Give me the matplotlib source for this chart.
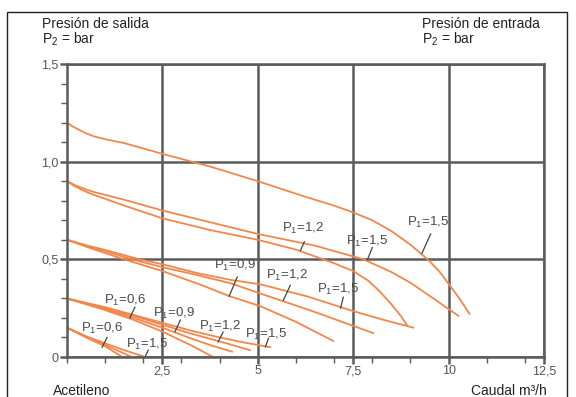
import matplotlib
matplotlib.use("Agg")
import matplotlib.pyplot as plt
from matplotlib.patches import Rectangle
from matplotlib.ticker import MultipleLocator, FixedLocator, FuncFormatter

plt.rcParams['font.family'] = ['Liberation Sans', 'DejaVu Sans']
plt.rcParams['mathtext.fontset'] = 'custom'
plt.rcParams['mathtext.rm'] = 'Liberation Sans'
plt.rcParams['mathtext.default'] = 'regular'

# ---- data ----
# curve starting at 1.2
a_x = [0, 0.15, 0.3, 0.5, 0.7, 1.0, 1.5, 2.5, 3.75, 5, 6.25, 7.0, 7.5, 8.0, 8.5, 9.0, 9.45, 9.75, 10.0, 10.3, 10.55]
a_y = [1.2, 1.18, 1.165, 1.145, 1.13, 1.115, 1.095, 1.04, 0.975, 0.9, 0.82, 0.775, 0.74, 0.70, 0.645, 0.575, 0.5, 0.44, 0.375, 0.295, 0.22]
# curves starting at 0.9
b_x = [0, 0.2, 0.4, 0.7, 1, 1.5, 2.5, 3.75, 5, 6.5, 7.77, 8.5, 9.0, 9.6, 10.26]
b_y = [0.9, 0.88, 0.865, 0.845, 0.83, 0.805, 0.75, 0.69, 0.63, 0.57, 0.5, 0.435, 0.38, 0.30, 0.21]
c_x = [0, 0.2, 0.4, 0.7, 1, 1.5, 2.5, 3.75, 5, 5.6, 6.0, 6.5, 7.0, 7.5, 7.9, 8.2, 8.5, 8.75, 8.92]
c_y = [0.9, 0.875, 0.855, 0.83, 0.81, 0.775, 0.71, 0.65, 0.6, 0.57, 0.55, 0.515, 0.48, 0.44, 0.39, 0.335, 0.27, 0.21, 0.16]
# curves starting at 0.6
d_x = [0, 0.5, 1.0, 1.9, 2.5, 3.4, 4.28, 5.07, 6.3, 7.5, 8.3, 9.08]
d_y = [0.6, 0.572, 0.548, 0.5, 0.475, 0.43, 0.395, 0.372, 0.31, 0.235, 0.19, 0.15]
e_x = [0, 0.5, 1.0, 1.7, 2.5, 3.4, 4.28, 5.07, 6.5, 8.03]
e_y = [0.6, 0.57, 0.542, 0.5, 0.46, 0.42, 0.378, 0.325, 0.23, 0.122]
f_x = [0, 0.5, 1.0, 1.5, 2.5, 3.5, 4.28, 5.07, 6.0, 6.98]
f_y = [0.6, 0.565, 0.532, 0.5, 0.44, 0.37, 0.31, 0.26, 0.18, 0.082]
# curves starting at 0.3
g_x = [0, 0.5, 1, 1.75, 2.5, 3.25, 3.83]
g_y = [0.3, 0.27, 0.24, 0.19, 0.13, 0.06, 0.0]
h_x = [0, 0.5, 1, 1.75, 2.5, 3.25, 3.8, 4.33]
h_y = [0.3, 0.272, 0.245, 0.2, 0.15, 0.095, 0.058, 0.027]
i_x = [0, 0.5, 1, 1.75, 2.5, 3.25, 4.0, 4.8]
i_y = [0.3, 0.275, 0.25, 0.21, 0.165, 0.12, 0.08, 0.035]
j_x = [0, 0.5, 1, 1.75, 2.5, 3.25, 4.0, 4.7, 5.33]
j_y = [0.3, 0.277, 0.255, 0.215, 0.175, 0.135, 0.1, 0.072, 0.05]
# curves starting at 0.15
k_x = [0, 0.5, 1.0, 1.45]
k_y = [0.15, 0.1, 0.055, 0.0]
l_x = [0, 0.5, 1.0, 1.7]
l_y = [0.15, 0.103, 0.062, 0.0]
m_x = [0, 0.5, 1.0, 1.5, 2.05]
m_y = [0.15, 0.106, 0.07, 0.035, 0.0]

curves = [(a_x, a_y), (b_x, b_y), (c_x, c_y), (d_x, d_y), (e_x, e_y), (f_x, f_y),
          (g_x, g_y), (h_x, h_y), (i_x, i_y), (j_x, j_y), (k_x, k_y), (l_x, l_y), (m_x, m_y)]

# label texts, text centre and leader line (start -> end)
label_texts = ['1,5', '1,2', '1,5', '0,9', '1,2', '1,5', '0,6', '0,9', '1,2', '1,5', '0,6', '1,5']
label_pos = [(9.45, 0.69), (6.19, 0.66), (7.87, 0.59), (4.41, 0.47), (5.77, 0.415), (7.11, 0.345),
             (1.52, 0.29), (2.81, 0.224), (4.02, 0.158), (5.22, 0.118), (0.92, 0.148), (2.1, 0.062)]
leader_from = [(9.53, 0.63), (6.22, 0.59), (8.0, 0.56), (4.46, 0.41), (5.85, 0.367), (7.24, 0.306),
               (1.78, 0.255), (2.97, 0.189), (4.09, 0.128), (5.28, 0.097), (1.05, 0.10), (2.13, 0.035)]
leader_to = [(9.3, 0.53), (6.12, 0.546), (7.87, 0.497), (4.25, 0.311), (5.67, 0.29), (7.17, 0.25),
             (1.65, 0.2), (2.83, 0.13), (3.96, 0.077), (5.2, 0.052), (0.92, 0.05), (2.05, 0.003)]

x_major = [2.5, 5, 7.5, 10, 12.5]
y_major = [0, 0.5, 1.0, 1.5]
y_major_labels = ['0', '0,5', '1,0', '1,5']
x_major_labels = ['2,5', '5', '7,5', '10', '12,5']

# ---- figure ----
fig = plt.figure(figsize=(5.76, 3.97), dpi=100)
ax = fig.add_axes([67 / 576, 1 - 357 / 397, (544 - 67) / 576, (357 - 64) / 397])
ax.set_xlim(0, 12.5)
ax.set_ylim(0, 1.5)

grid_c = '#5b5b5b'
ax.grid(True, which='major', color=grid_c, lw=1.8)
ax.set_axisbelow(True)
for s in ax.spines.values():
    s.set_color(grid_c)
    s.set_linewidth(1.8)

ax.set_xticks(x_major, x_major_labels)
ax.set_yticks(y_major, y_major_labels)
ax.xaxis.set_minor_locator(MultipleLocator(1))
ax.yaxis.set_minor_locator(MultipleLocator(0.1))
ax.tick_params(which='major', direction='out', length=5, width=1.8, color=grid_c,
               labelsize=9, labelcolor='#555555', pad=1)
ax.tick_params(which='minor', direction='out', length=4, width=1.0, color=grid_c)

line_c = '#f2874a'
for cx, cy in curves:
    ax.plot(cx, cy, color=line_c, lw=1.3, solid_capstyle='round', solid_joinstyle='round')

for t, (tx, ty), (fx, fy), (ex, ey) in zip(label_texts, label_pos, leader_from, leader_to):
    ax.text(tx, ty, r'P$_1$=' + t, fontsize=9.5, color='#4a4a4a', ha='center', va='center')
    ax.plot([fx, ex], [fy, ey], color='#444444', lw=0.9)

# outer frame
fig.add_artist(Rectangle((7 / 576, -0.05), (567 - 7) / 576, 1 - 12 / 397 + 0.05,
                         transform=fig.transFigure, fill=False, lw=1.0, edgecolor='#222222'))

tc = '#222222'
fig.text(42 / 576, 1 - 28 / 397, 'Presión de salida', fontsize=10, color=tc, va='baseline')
fig.text(42 / 576, 1 - 44 / 397, r'P$_2$ = bar', fontsize=10, color=tc, va='baseline')
fig.text(422 / 576, 1 - 28 / 397, 'Presión de entrada', fontsize=10, color=tc, va='baseline')
fig.text(422 / 576, 1 - 44 / 397, r'P$_2$ = bar', fontsize=10, color=tc, va='baseline')
fig.text(53 / 576, 1 - 395 / 397, 'Acetileno', fontsize=10, color=tc, va='baseline')
fig.text(547 / 576, 1 - 395 / 397, 'Caudal m³/h', fontsize=10, color=tc, va='baseline', ha='right')

fig.savefig('out.png', dpi=100)
